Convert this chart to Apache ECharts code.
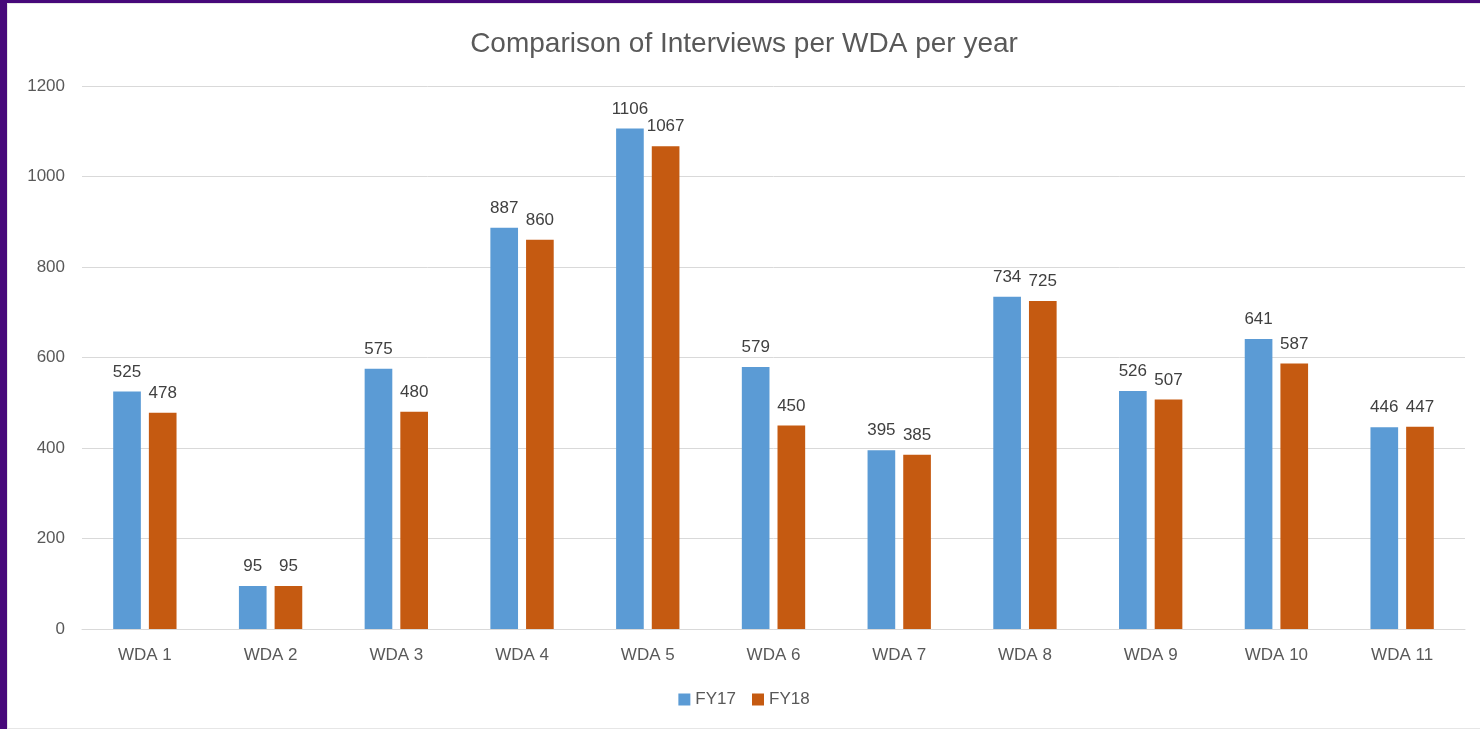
<!DOCTYPE html>
<html>
<head>
<meta charset="utf-8">
<script src="https://cdn.jsdelivr.net/npm/echarts@6/dist/echarts.min.js"></script>
<style>
  html, body { margin: 0; padding: 0; background: #47097a; }
  #frame {
    position: absolute; left: 7px; top: 3px; width: 1473px; height: 726px;
    background: #e6e6e6;
  }
  #main {
    position: absolute; left: 1px; top: 1px; width: 1472px; height: 724px;
    background: #ffffff;
  }
</style>
</head>
<body>
<div id="frame"><div id="main"></div></div>
<script>
  const categories = ['WDA 1', 'WDA 2', 'WDA 3', 'WDA 4', 'WDA 5', 'WDA 6', 'WDA 7', 'WDA 8', 'WDA 9', 'WDA 10', 'WDA 11']
  const fy17 = [525, 95, 575, 887, 1106, 579, 395, 734, 526, 641, 446]
  const fy18 = [478, 95, 480, 860, 1067, 450, 385, 725, 507, 587, 447]

  const fontFamily = 'Liberation Sans, Arial, sans-serif'
  const labelStyle = {
    show: true,
    position: 'top',
    distance: 11,
    color: '#404040',
    fontSize: 17,
    fontFamily: fontFamily
  }

  var myChart = echarts.init(document.getElementById('main'))

  var option = {
    animation: false,
    title: {
      text: 'Comparison of Interviews per WDA per year',
      left: 'center',
      top: 21,
      textStyle: {
        color: '#595959',
        fontSize: 28,
        fontWeight: 'normal',
        fontFamily: fontFamily
      }
    },
    legend: {
      data: ['FY17', 'FY18'],
      bottom: 15,
      left: 'center',
      itemWidth: 12,
      itemHeight: 12,
      itemGap: 16,
      icon: 'rect',
      textStyle: { color: '#595959', fontSize: 17, fontFamily: fontFamily }
    },
    grid: {
      left: 74,
      right: 15,
      top: 82,
      bottom: 99,
      containLabel: false
    },
    xAxis: {
      type: 'category',
      data: categories,
      axisLine: { lineStyle: { color: '#d9d9d9', width: 1 } },
      axisTick: { show: false },
      axisLabel: { color: '#595959', fontSize: 17, margin: 18, fontFamily: fontFamily }
    },
    yAxis: {
      type: 'value',
      min: 0,
      max: 1200,
      interval: 200,
      axisLine: { show: false },
      axisTick: { show: false },
      splitLine: { lineStyle: { color: '#d9d9d9', width: 1 } },
      axisLabel: {
        color: '#595959',
        fontSize: 17,
        margin: 17,
        fontFamily: fontFamily,
        formatter: function (v) { return String(v) }
      }
    },
    series: [
      {
        name: 'FY17',
        type: 'bar',
        data: fy17,
        barWidth: '22%',
        barGap: '29%',
        itemStyle: { color: '#5b9bd5' },
        label: labelStyle
      },
      {
        name: 'FY18',
        type: 'bar',
        data: fy18,
        barWidth: '22%',
        itemStyle: { color: '#c55a11' },
        label: labelStyle
      }
    ]
  }

  myChart.setOption(option)
</script>
</body>
</html>
